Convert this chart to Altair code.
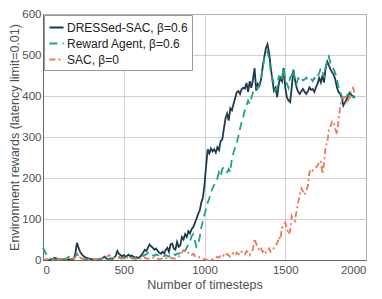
import altair as alt
import pandas as pd

series_names = ["DRESSed-SAC, β=0.6", "Reward Agent, β=0.6", "SAC, β=0"]
colors = ["#1f3a4e", "#1aa38b", "#ef7759"]
dashes = [[1, 0], [8, 5], [6, 3, 2, 3]]

timesteps = list(range(0, 1940, 10))

dressed_sac = [
    0, 0, 1, 1, 0, 1, 3, 5, 4, 3,
    2, 2, 1, 2, 1, 2, 1, 2, 1, 3,
    15, 42, 30, 20, 14, 10, 7, 5, 4, 3,
    2, 2, 1, 1, 1, 2, 3, 5, 8, 4,
    3, 2, 4, 2, 6, 10, 22, 15, 12, 9,
    12, 8, 10, 13, 9, 11, 8, 6, 7, 5,
    8, 12, 18, 25, 22, 30, 38, 33, 30, 25,
    28, 22, 18, 15, 20, 16, 25, 30, 20, 38,
    40, 28, 25, 44, 32, 36, 56, 50, 63, 56,
    70, 65, 75, 80, 90, 100, 112, 120, 140, 152,
    183, 230, 270, 260, 272, 265, 270, 262, 275, 268,
    290, 294, 320, 345, 357, 340, 370, 365, 381, 395,
    409, 412, 405, 417, 420, 418, 432, 410, 436, 420,
    440, 468, 413, 430, 425, 440, 470, 495, 516, 526,
    505, 470, 440, 413, 420, 397, 430, 444, 436, 468,
    421, 397, 389, 385, 420, 464, 440, 421, 410, 405,
    412, 417, 410, 405, 412, 421, 415, 417, 410, 421,
    430, 444, 433, 450, 433, 468, 484, 475, 465, 458,
    452, 440, 421, 410, 405, 395, 377, 385, 392, 400,
    408, 402, 400, 395,
]

reward_agent = [
    30, 22, 14, 8, 5, 3, 2, 2, 1, 2,
    1, 2, 1, 1, 3, 5, 8, 4, 2, 3,
    8, 15, 10, 6, 4, 3, 2, 2, 1, 1,
    1, 1, 2, 1, 2, 3, 2, 4, 5, 3,
    2, 3, 2, 4, 6, 8, 12, 8, 5, 4,
    6, 4, 5, 3, 5, 6, 4, 3, 4, 3,
    5, 8, 10, 12, 14, 18, 20, 16, 12, 10,
    14, 12, 10, 8, 11, 9, 12, 10, 8, 12,
    10, 14, 12, 16, 15, 18, 20, 25, 22, 30,
    38, 45, 58, 63, 48, 32, 36, 55, 79, 95,
    111, 125, 140, 151, 165, 175, 183, 190, 200, 214,
    205, 222, 226, 218, 214, 222, 214, 250, 262, 275,
    286, 302, 320, 337, 350, 365, 377, 389, 381, 395,
    409, 415, 421, 418, 428, 440, 468, 490, 500, 508,
    490, 460, 445, 428, 413, 420, 450, 436, 445, 468,
    440, 430, 420, 445, 450, 464, 438, 430, 444, 440,
    445, 438, 440, 445, 438, 440, 442, 436, 444, 440,
    450, 455, 468, 460, 445, 470, 485, 496, 480, 472,
    465, 456, 440, 421, 410, 400, 389, 395, 400, 405,
    397, 405, 397, 400,
]

sac = [
    2, 1, 1, 2, 1, 2, 1, 2, 3, 2,
    2, 1, 2, 1, 2, 3, 2, 3, 4, 3,
    8, 16, 10, 6, 4, 3, 2, 2, 1, 2,
    1, 2, 1, 2, 3, 5, 4, 6, 8, 7,
    10, 12, 8, 6, 5, 4, 6, 5, 4, 3,
    5, 4, 6, 3, 4, 5, 3, 4, 2, 3,
    4, 3, 5, 6, 4, 3, 5, 4, 6, 3,
    4, 3, 2, 3, 4, 6, 4, 5, 3, 4,
    5, 3, 4, 6, 8, 12, 18, 24, 20, 16,
    18, 14, 12, 15, 10, 8, 10, 6, 4, 3,
    2, 1, 0, 1, 0, 2, 3, 5, 8, 6,
    10, 7, 12, 9, 15, 11, 8, 14, 17, 12,
    18, 15, 12, 20, 16, 14, 22, 18, 12, 20,
    25, 52, 40, 30, 22, 28, 20, 25, 18, 22,
    28, 20, 22, 30, 36, 40, 56, 50, 79, 83,
    91, 79, 63, 70, 107, 100, 95, 120, 140, 160,
    175, 167, 159, 170, 180, 214, 222, 218, 222, 226,
    230, 238, 242, 210, 235, 278, 286, 317, 325, 338,
    337, 320, 306, 341, 373, 393, 398, 397, 381, 390,
    401, 417, 420, 405,
]

rows = []
for name, vals in zip(series_names, [dressed_sac, reward_agent, sac]):
    for t, v in zip(timesteps, vals):
        rows.append({"t": t, "v": v, "series": name})
df = pd.DataFrame(rows)

FONT = "Liberation Sans"

chart = alt.Chart(df).mark_line(strokeWidth=1.8).encode(
    x=alt.X("t:Q", scale=alt.Scale(domain=[0, 2000], nice=False),
            axis=alt.Axis(title="Number of timesteps", values=[0, 500, 1000, 1500, 2000],
                          format="d")),
    y=alt.Y("v:Q", scale=alt.Scale(domain=[0, 600], nice=False),
            axis=alt.Axis(title="Environment rewards (latency limit=0.01)",
                          values=[0, 100, 200, 300, 400, 500, 600])),
    color=alt.Color("series:N", scale=alt.Scale(domain=series_names, range=colors),
                    legend=alt.Legend(title=None, orient="none", legendX=1, legendY=1,
                                      symbolType="stroke", symbolSize=200,
                                      symbolStrokeWidth=2, rowPadding=1,
                                      labelFont=FONT, labelFontSize=12, labelColor="#222",
                                      fillColor="white", strokeColor="#999",
                                      padding=4, labelOffset=2)),
    strokeDash=alt.StrokeDash("series:N", scale=alt.Scale(domain=series_names, range=dashes),
                              legend=None),
    detail="series:N",
).properties(
    width=323, height=246,
    autosize=alt.AutoSizeParams(type="none"),
    padding={"left": 35, "top": 6, "right": 8, "bottom": 31},
).configure_view(
    stroke="#666", strokeWidth=1
).configure_axis(
    labelFont=FONT, titleFont=FONT, labelFontSize=11.5, titleFontSize=12.5,
    labelColor="#505050", titleColor="#505050", titleFontWeight="normal",
    gridColor="#c4c4c4", gridWidth=0.8, domainColor="#666",
    tickSize=0, labelPadding=3,
).configure_axisX(titlePadding=3, labelPadding=4).configure_axisY(titlePadding=0, labelPadding=2)

chart.save("out.html", embed_options={"renderer": "svg", "actions": False})
